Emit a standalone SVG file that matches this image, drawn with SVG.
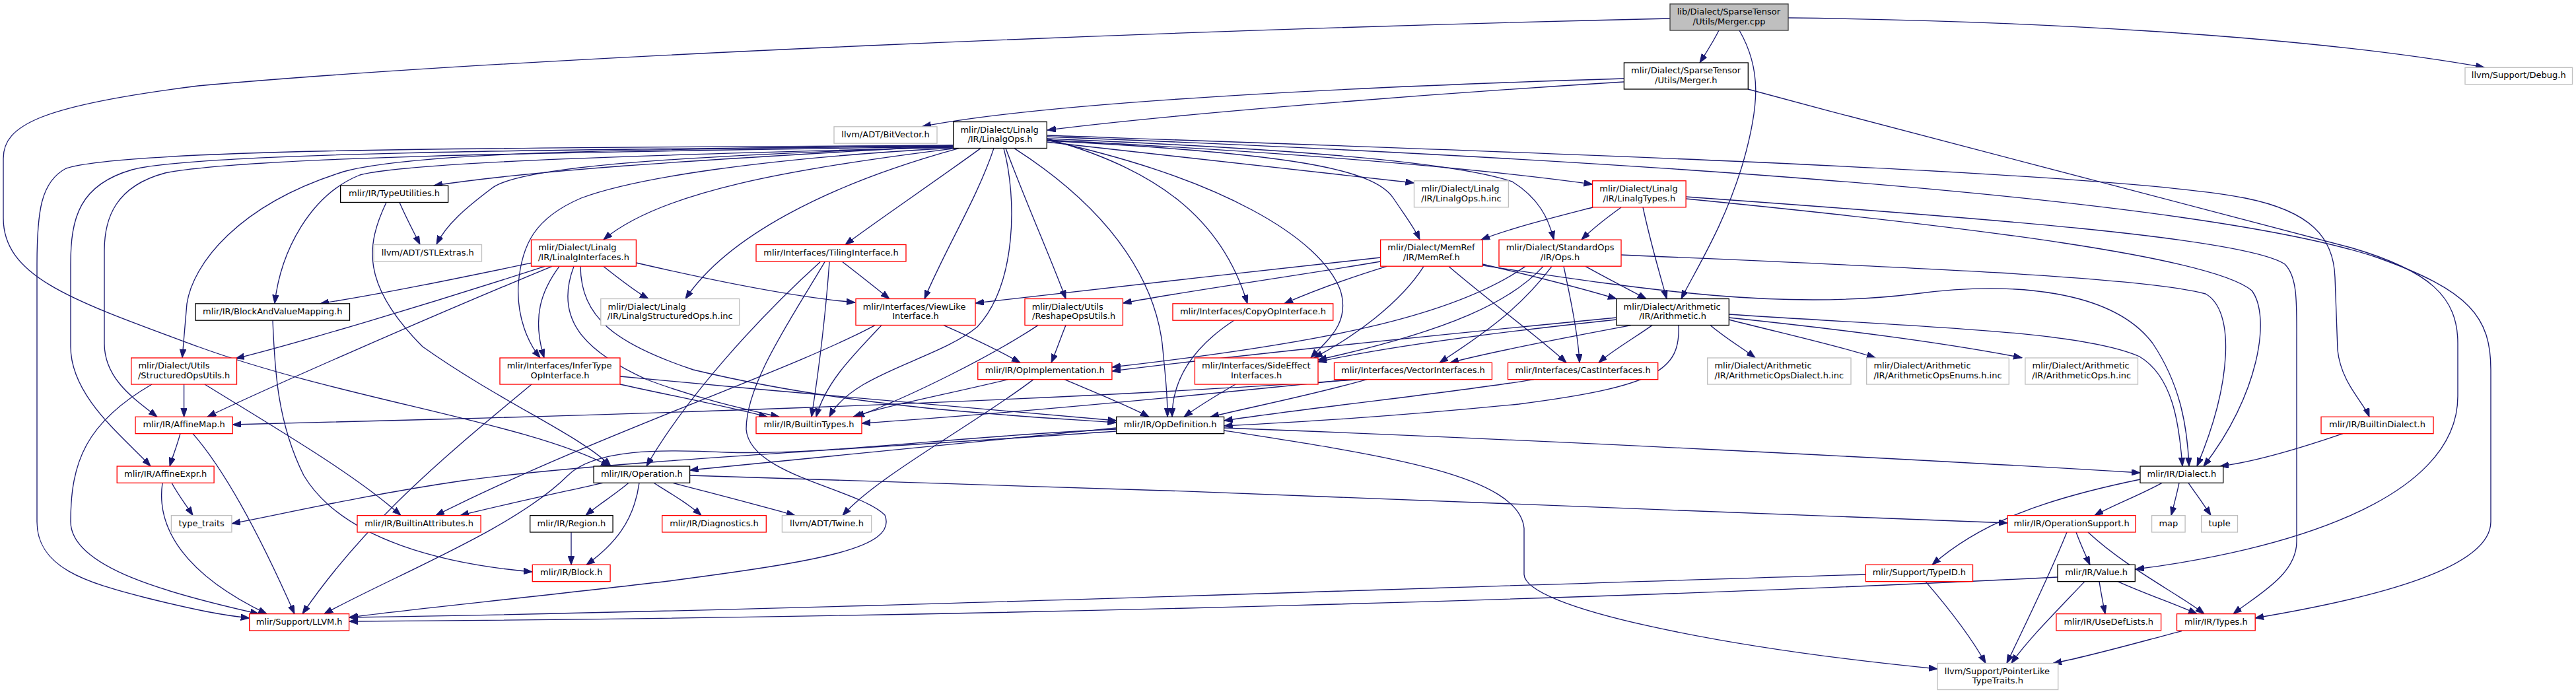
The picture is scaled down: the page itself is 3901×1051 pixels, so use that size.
<svg xmlns="http://www.w3.org/2000/svg" width="3901" height="1051" viewBox="0 0 3901 1051">
<style>
.node rect{fill:#fff;stroke-width:1.33}
.blk rect{stroke:#000}
.red rect{stroke:#f00}
.gry rect{stroke:#bfbfbf}
.root rect{fill:#bfbfbf;stroke:#404040}
text{font-family:"DejaVu Sans","Liberation Sans",sans-serif;font-size:13px;fill:#000}
.m{text-anchor:middle}
.s{text-anchor:start}
#edges path{fill:none;stroke:#191970;stroke-width:1.33;marker-end:url(#a)}
</style>
<defs>
<marker id="a" markerUnits="userSpaceOnUse" markerWidth="14" markerHeight="10" refX="13" refY="4.7" orient="auto">
<path d="M0,0 L13,4.7 L0,9.4 z" fill="#191970" stroke="#191970" stroke-width="1"/>
</marker>
</defs>
<rect width="3901" height="1051" fill="#fff"/>
<g id="edges">
<path d="M2603,46 C2595,62 2585,78 2574,95"/>
<path d="M2634,46 C2668,105 2664,160 2640,245 C2612,340 2570,405 2546,452.5"/>
<path d="M2708,27 C3050,31 3480,52 3762,102"/>
<path d="M2529,28 C1800,45 800,85 300,130 C60,160 5,190 5,240 L5,330 C5,420 110,455 300,525 C520,605 800,640 923,706"/>
<path d="M2459,119 C2100,130 1600,152 1397,191.5"/>
<path d="M2459,124 C2200,140 1800,170 1586,197"/>
<path d="M2647,135 C3000,230 3380,330 3560,375 C3680,410 3722,450 3722,520 L3722,600 C3722,760 3450,835 3234,862"/>
<path d="M1444,220 C1150,238 850,252 657,281"/>
<path d="M1444,222 C1050,236 790,250 745,285 C705,315 676,340 661,370"/>
<path d="M1444,223 C1000,234 620,245 545,265 C470,295 425,380 416,459.7"/>
<path d="M1444,221 C900,226 620,232 520,260 C360,310 292,400 283,460 L276,541.8"/>
<path d="M1444,222 C900,230 380,236 250,262 C175,282 158,330 158,380 L158,520 C158,575 205,605 238,631.3"/>
<path d="M1444,221 C900,226 300,230 200,257 C120,280 107,330 107,400 L107,525 C107,600 185,660 228,706"/>
<path d="M1444,220 C900,224 200,222 100,255 C62,275 56,320 56,400 L56,790 C56,860 130,882 220,905 C300,925 340,932 377.7,936"/>
<path d="M1447,224.6 C1200,255 1000,290 914,363"/>
<path d="M1444,224 C1150,240 960,270 880,300 C810,330 790,370 785,430 C782,480 800,520 818,541.8"/>
<path d="M1452,224.6 C1250,280 1100,360 1038,452.6"/>
<path d="M1485,224.6 C1420,272 1320,340 1280,370.5"/>
<path d="M1505,224.6 C1480,300 1430,380 1400,452.6"/>
<path d="M1520,224.6 C1540,300 1540,430 1480,495 C1420,545 1290,565 1256,631.3"/>
<path d="M1523,224.6 C1555,310 1595,400 1614,452.6"/>
<path d="M1536,224.6 C1700,330 1750,440 1760,520 C1765,570 1768,600 1768,631.3"/>
<path d="M1585,210 C1750,255 1850,330 1889,459.7"/>
<path d="M1585,212 C1850,270 2000,360 2030,440 C2045,490 2010,515 1985,541.8"/>
<path d="M1585,215 C1800,240 2000,260 2141.5,277"/>
<path d="M1585,212 C1900,228 2200,250 2411.6,279"/>
<path d="M1585,213 C1950,232 2080,255 2110,300 C2130,330 2142,345 2150,363"/>
<path d="M1585,210 C1950,225 2200,245 2290,275 C2330,300 2345,330 2353,363"/>
<path d="M1585,205 C2300,230 3200,260 3400,300 C3500,320 3534,360 3536,420 L3540,530 C3545,580 3580,610 3588,631.3"/>
<path d="M1585,207 C2300,235 3300,290 3600,390 C3740,440 3772,480 3772,560 L3772,790 C3772,860 3600,905 3415,936"/>
<path d="M2412,314 C2350,330 2290,345 2243,363"/>
<path d="M2455,314 C2430,332 2410,348 2395,363"/>
<path d="M2488,314 C2500,370 2515,420 2524,452.6"/>
<path d="M2553,298 C3000,330 3400,360 3460,400 C3480,420 3478,460 3478,520 L3478,820 C3478,870 3420,900 3382,929.6"/>
<path d="M2553,301 C3000,345 3350,390 3410,440 C3440,480 3420,600 3337,706"/>
<path d="M2245,400 C2330,420 2400,438 2448,452.6"/>
<path d="M2245,402 C2500,440 2700,470 2900,445 C3050,425 3200,440 3260,520 C3300,580 3312,640 3315,706"/>
<path d="M2194,403.4 C2260,460 2330,510 2372,549.2"/>
<path d="M2090.6,390 C1900,410 1650,440 1477,459"/>
<path d="M2090.6,396 C1950,420 1800,440 1700.4,459"/>
<path d="M2100,403.4 C2030,425 1990,440 1945,459.7"/>
<path d="M2156,403.4 C2120,460 2050,510 1990,541.8"/>
<path d="M2401,403.4 C2440,425 2470,440 2493,452.6"/>
<path d="M2455,386 C2900,405 3250,420 3340,445 C3385,470 3380,580 3327,706"/>
<path d="M2368,403.4 C2380,460 2390,510 2392,549.2"/>
<path d="M2337,403.4 C2290,455 2200,500 1996,545"/>
<path d="M2350,403.4 C2300,470 2240,510 2180,549.2"/>
<path d="M2310,403.4 C2200,480 2000,520 1684,556"/>
<path d="M2470,492.6 C2350,515 2250,535 2196,549.2"/>
<path d="M2618,476 C2900,495 3150,500 3240,540 C3290,570 3300,640 3305,706"/>
<path d="M2590,492.6 C2610,510 2640,528 2658,541.8"/>
<path d="M2618,484 C2700,505 2790,525 2840,541.8"/>
<path d="M2618,481 C2800,500 2950,520 3062,541.8"/>
<path d="M2502,492.6 C2470,515 2440,532 2421,549.2"/>
<path d="M2448,484 C2250,505 2100,525 1996,548"/>
<path d="M2448,481 C2200,505 1900,535 1684,562"/>
<path d="M2542,492.6 C2545,560 2510,585 2300,612 C2100,632 1950,640 1853.6,645"/>
<path d="M1869,485 C1800,530 1775,580 1775,631.3"/>
<path d="M1871,582 C1840,600 1815,615 1793,631.3"/>
<path d="M2070,574.6 C1980,600 1900,615 1833,631.3"/>
<path d="M2045,574.6 C1800,600 1500,628 1305,641"/>
<path d="M2060,574.6 C1700,600 1200,620 700,634 C550,638 420,641 352.2,643"/>
<path d="M2323,574.6 C2200,595 2000,615 1853.6,637"/>
<path d="M1612,574.6 C1660,595 1710,615 1740,631.3"/>
<path d="M1527,574.6 C1420,600 1340,615 1292,631.3"/>
<path d="M1565,574.6 C1480,640 1330,720 1276,780.6"/>
<path d="M939,582 C1020,600 1100,615 1162,631.3"/>
<path d="M939,570 C1200,595 1500,620 1690.6,637"/>
<path d="M805,582 C700,670 560,780 458,929.6"/>
<path d="M278.6,582 L278.6,631.3"/>
<path d="M310,582 C420,650 540,720 607,780.6"/>
<path d="M230,582 C130,640 107,700 107,790 C107,860 260,900 392,929.6"/>
<path d="M273,656.6 C268,675 262,690 257,706"/>
<path d="M292,656.6 C330,700 380,780 446,929.6"/>
<path d="M260,731.3 C270,750 282,765 292,780.6"/>
<path d="M246,731.3 C236,800 280,870 404,929.6"/>
<path d="M413,485 C416,560 420,640 460,720 C520,820 680,855 806,866"/>
<path d="M605,306.5 C615,330 626,350 636,370.3"/>
<path d="M585,306.5 C555,370 545,430 640,525 C760,610 880,660 925,706"/>
<path d="M806,398 C700,420 580,445 485,459.7"/>
<path d="M825,403.4 C650,460 450,520 357,543"/>
<path d="M836,403.4 C650,480 400,590 314,631.3"/>
<path d="M847,403.4 C820,440 805,480 824,541.8"/>
<path d="M914,403.4 C935,420 960,440 982,452.6"/>
<path d="M963.4,398 C1080,425 1200,450 1295,458"/>
<path d="M869,403.4 C840,480 880,530 980,575 C1060,605 1130,620 1180,631.3"/>
<path d="M879,403.4 C880,480 930,520 1050,560 C1300,620 1550,630 1690.6,640"/>
<path d="M1276,396.7 C1300,415 1325,435 1347,452.6"/>
<path d="M1242,396.7 C1150,480 1040,600 979,706"/>
<path d="M1249,396.7 C1200,480 1130,580 1130,650 C1135,720 1300,740 1340,780 C1360,830 1240,850 1012,880 C800,905 600,925 528.6,935"/>
<path d="M1256,396.7 C1250,480 1240,560 1229,631.3"/>
<path d="M1429,492.6 C1480,515 1520,535 1545,549.2"/>
<path d="M1335,492.6 C1290,540 1250,580 1236,631.3"/>
<path d="M1325,492.6 C1200,560 900,660 660,780.6"/>
<path d="M1614,492.6 C1605,515 1598,535 1592,549.2"/>
<path d="M1572,492.6 C1500,540 1380,600 1296,631.3"/>
<path d="M1690.6,648 C1450,672 1200,695 1044.6,712"/>
<path d="M1853.6,648 C2300,665 2900,695 3241,716"/>
<path d="M1690.6,650 C1450,660 1250,690 1100,685 C1000,680 900,680 860,720 C780,800 600,870 491,929.6"/>
<path d="M1690.6,653 C1300,680 900,700 700,728 C550,750 420,780 351,793"/>
<path d="M1853.6,652 C2100,690 2300,720 2308,800 L2308,870 C2310,920 2600,980 2934,1013"/>
<path d="M913,731.3 C820,752 750,767 697,780.6"/>
<path d="M952,731.3 C930,750 905,765 887,780.6"/>
<path d="M968,731.3 C960,790 930,825 888,855.4"/>
<path d="M990,731.3 C1020,750 1045,765 1062,780.6"/>
<path d="M1019,731.3 C1090,750 1160,768 1204,780.6"/>
<path d="M1044.6,720 C1700,740 2600,770 3040,792"/>
<path d="M865,806 L865,855.4"/>
<path d="M3274,731.3 C3240,750 3200,765 3172,780.6"/>
<path d="M3300,731.3 C3296,750 3292,765 3288,780.6"/>
<path d="M3314,731.3 C3327,750 3338,765 3348,780.6"/>
<path d="M3241,726 C3100,755 3000,790 2926,855.4"/>
<path d="M3548,656.6 C3480,680 3410,700 3362,706"/>
<path d="M3144,806 C3151,825 3158,840 3165,855.4"/>
<path d="M3162,806 C3220,860 3300,900 3338,929.6"/>
<path d="M3130,806 C3100,880 3060,960 3039,1004.5"/>
<path d="M2916,880.6 C2950,920 2985,965 3007,1004.5"/>
<path d="M2825.3,870 C2000,895 1200,925 528.6,935"/>
<path d="M3157,880.6 C3110,930 3070,970 3046,1004.5"/>
<path d="M3179,880.6 C3182,900 3185,915 3188,929.6"/>
<path d="M3207,880.6 C3250,900 3295,915 3327,929.6"/>
<path d="M3116,874 C2500,905 1500,935 528.6,941"/>
<path d="M3304,955.6 C3230,975 3160,995 3109,1004.5"/>
</g>
<g id="n1" class="node root"><rect x="2529" y="6" width="179" height="40"/><text class="s" x="2539.7" y="22">lib/Dialect/SparseTensor</text><text class="m" x="2618.5" y="36.7">/Utils/Merger.cpp</text></g>
<g id="n2" class="node blk"><rect x="2459.4" y="95" width="187.9" height="40"/><text class="s" x="2470.1" y="111">mlir/Dialect/SparseTensor</text><text class="m" x="2553.35" y="125.7">/Utils/Merger.h</text></g>
<g id="n3" class="node gry"><rect x="1263" y="191.83" width="156" height="25.33"/><text class="m" x="1341" y="207.83">llvm/ADT/BitVector.h</text></g>
<g id="n4" class="node blk"><rect x="1443.75" y="184.5" width="141.55" height="40"/><text class="s" x="1454.45" y="200.5">mlir/Dialect/Linalg</text><text class="m" x="1514.5" y="215.2">/IR/LinalgOps.h</text></g>
<g id="n5" class="node gry"><rect x="3733" y="102.33" width="162.5" height="25.33"/><text class="m" x="3814.25" y="118.33">llvm/Support/Debug.h</text></g>
<g id="n6" class="node blk"><rect x="515.6" y="281.13" width="163" height="25.33"/><text class="m" x="597.1" y="297.13">mlir/IR/TypeUtilities.h</text></g>
<g id="n7" class="node gry"><rect x="566" y="370.53" width="163.5" height="25.33"/><text class="m" x="647.75" y="386.53">llvm/ADT/STLExtras.h</text></g>
<g id="n8" class="node red"><rect x="804.5" y="363.2" width="158.9" height="40"/><text class="s" x="815.2" y="379.2">mlir/Dialect/Linalg</text><text class="m" x="883.95" y="393.9">/IR/LinalgInterfaces.h</text></g>
<g id="n9" class="node red"><rect x="1145" y="370.53" width="227" height="25.33"/><text class="m" x="1258.5" y="386.53">mlir/Interfaces/TilingInterface.h</text></g>
<g id="n10" class="node gry"><rect x="2141.5" y="273.8" width="142.9" height="40"/><text class="s" x="2152.2" y="289.8">mlir/Dialect/Linalg</text><text class="m" x="2212.95" y="304.5">/IR/LinalgOps.h.inc</text></g>
<g id="n11" class="node red"><rect x="2411.6" y="273.8" width="141.5" height="40"/><text class="s" x="2422.3" y="289.8">mlir/Dialect/Linalg</text><text class="m" x="2482.35" y="304.5">/IR/LinalgTypes.h</text></g>
<g id="n12" class="node red"><rect x="2090.6" y="363.2" width="154.4" height="40"/><text class="s" x="2101.3" y="379.2">mlir/Dialect/MemRef</text><text class="m" x="2167.8" y="393.9">/IR/MemRef.h</text></g>
<g id="n13" class="node red"><rect x="2270" y="363.2" width="185" height="40"/><text class="s" x="2280.7" y="379.2">mlir/Dialect/StandardOps</text><text class="m" x="2362.5" y="393.9">/IR/Ops.h</text></g>
<g id="n14" class="node blk"><rect x="296" y="459.83" width="233.5" height="25.33"/><text class="m" x="412.75" y="475.83">mlir/IR/BlockAndValueMapping.h</text></g>
<g id="n15" class="node gry"><rect x="909.8" y="452.5" width="209.8" height="40"/><text class="s" x="920.5" y="468.5">mlir/Dialect/Linalg</text><text class="m" x="1014.7" y="483.2">/IR/LinalgStructuredOps.h.inc</text></g>
<g id="n16" class="node red"><rect x="1296" y="452.5" width="181" height="40"/><text class="s" x="1306.7" y="468.5">mlir/Interfaces/ViewLike</text><text class="m" x="1386.5" y="483.2">Interface.h</text></g>
<g id="n17" class="node red"><rect x="1552" y="452.5" width="148.4" height="40"/><text class="s" x="1562.7" y="468.5">mlir/Dialect/Utils</text><text class="m" x="1626.2" y="483.2">/ReshapeOpsUtils.h</text></g>
<g id="n18" class="node red"><rect x="1776" y="459.83" width="242.75" height="25.33"/><text class="m" x="1897.4" y="475.83">mlir/Interfaces/CopyOpInterface.h</text></g>
<g id="n19" class="node blk"><rect x="2447.8" y="452.5" width="170.5" height="40"/><text class="s" x="2458.5" y="468.5">mlir/Dialect/Arithmetic</text><text class="m" x="2533.05" y="483.2">/IR/Arithmetic.h</text></g>
<g id="n20" class="node red"><rect x="198.7" y="542" width="159.8" height="40"/><text class="s" x="209.4" y="558">mlir/Dialect/Utils</text><text class="m" x="278.6" y="572.7">/StructuredOpsUtils.h</text></g>
<g id="n21" class="node red"><rect x="757" y="542" width="182" height="40"/><text class="s" x="767.7" y="558">mlir/Interfaces/InferType</text><text class="m" x="848" y="572.7">OpInterface.h</text></g>
<g id="n22" class="node red"><rect x="1480.8" y="549.33" width="203.1" height="25.33"/><text class="m" x="1582.35" y="565.33">mlir/IR/OpImplementation.h</text></g>
<g id="n23" class="node red"><rect x="1809.4" y="542" width="186.6" height="40"/><text class="s" x="1820.1" y="558">mlir/Interfaces/SideEffect</text><text class="m" x="1902.7" y="572.7">Interfaces.h</text></g>
<g id="n24" class="node red"><rect x="2020.5" y="549.33" width="238.9" height="25.33"/><text class="m" x="2139.95" y="565.33">mlir/Interfaces/VectorInterfaces.h</text></g>
<g id="n25" class="node red"><rect x="2283.5" y="549.33" width="227.2" height="25.33"/><text class="m" x="2397.1" y="565.33">mlir/Interfaces/CastInterfaces.h</text></g>
<g id="n26" class="node gry"><rect x="2585.7" y="542" width="217.3" height="40"/><text class="s" x="2596.4" y="558">mlir/Dialect/Arithmetic</text><text class="m" x="2694.35" y="572.7">/IR/ArithmeticOpsDialect.h.inc</text></g>
<g id="n27" class="node gry"><rect x="2826.7" y="542" width="215.6" height="40"/><text class="s" x="2837.4" y="558">mlir/Dialect/Arithmetic</text><text class="m" x="2934.5" y="572.7">/IR/ArithmeticOpsEnums.h.inc</text></g>
<g id="n28" class="node gry"><rect x="3066.9" y="542" width="170.6" height="40"/><text class="s" x="3077.6" y="558">mlir/Dialect/Arithmetic</text><text class="m" x="3152.2" y="572.7">/IR/ArithmeticOps.h.inc</text></g>
<g id="n29" class="node red"><rect x="205" y="631.33" width="147.2" height="25.33"/><text class="m" x="278.6" y="647.33">mlir/IR/AffineMap.h</text></g>
<g id="n30" class="node red"><rect x="1145" y="631.33" width="160" height="25.33"/><text class="m" x="1225" y="647.33">mlir/IR/BuiltinTypes.h</text></g>
<g id="n31" class="node blk"><rect x="1690.6" y="631.33" width="163" height="25.33"/><text class="m" x="1772.1" y="647.33">mlir/IR/OpDefinition.h</text></g>
<g id="n32" class="node red"><rect x="3515" y="631.33" width="170" height="25.33"/><text class="m" x="3600" y="647.33">mlir/IR/BuiltinDialect.h</text></g>
<g id="n33" class="node red"><rect x="177.2" y="706.03" width="146.9" height="25.33"/><text class="m" x="250.65" y="722.03">mlir/IR/AffineExpr.h</text></g>
<g id="n34" class="node blk"><rect x="899.1" y="706.03" width="145.5" height="25.33"/><text class="m" x="971.85" y="722.03">mlir/IR/Operation.h</text></g>
<g id="n35" class="node blk"><rect x="3241" y="706.03" width="125.7" height="25.33"/><text class="m" x="3303.85" y="722.03">mlir/IR/Dialect.h</text></g>
<g id="n36" class="node gry"><rect x="259.4" y="780.63" width="91.5" height="25.33"/><text class="m" x="305.15" y="796.63">type_traits</text></g>
<g id="n37" class="node red"><rect x="541" y="780.63" width="187.1" height="25.33"/><text class="m" x="634.55" y="796.63">mlir/IR/BuiltinAttributes.h</text></g>
<g id="n38" class="node blk"><rect x="802.7" y="780.63" width="125.4" height="25.33"/><text class="m" x="865.4" y="796.63">mlir/IR/Region.h</text></g>
<g id="n39" class="node red"><rect x="1002.7" y="780.63" width="157.6" height="25.33"/><text class="m" x="1081.5" y="796.63">mlir/IR/Diagnostics.h</text></g>
<g id="n40" class="node gry"><rect x="1184.4" y="780.63" width="135.2" height="25.33"/><text class="m" x="1252" y="796.63">llvm/ADT/Twine.h</text></g>
<g id="n41" class="node red"><rect x="3040.2" y="780.63" width="193.8" height="25.33"/><text class="m" x="3137.1" y="796.63">mlir/IR/OperationSupport.h</text></g>
<g id="n42" class="node gry"><rect x="3258.6" y="780.63" width="50.5" height="25.33"/><text class="m" x="3283.85" y="796.63">map</text></g>
<g id="n43" class="node gry"><rect x="3333.7" y="780.63" width="54.8" height="25.33"/><text class="m" x="3361.1" y="796.63">tuple</text></g>
<g id="n44" class="node red"><rect x="806.25" y="855.33" width="117.85" height="25.33"/><text class="m" x="865.2" y="871.33">mlir/IR/Block.h</text></g>
<g id="n45" class="node red"><rect x="2825.3" y="855.33" width="162.2" height="25.33"/><text class="m" x="2906.4" y="871.33">mlir/Support/TypeID.h</text></g>
<g id="n46" class="node blk"><rect x="3116" y="855.33" width="117.3" height="25.33"/><text class="m" x="3174.65" y="871.33">mlir/IR/Value.h</text></g>
<g id="n47" class="node red"><rect x="377.7" y="929.63" width="150.9" height="25.33"/><text class="m" x="453.15" y="945.63">mlir/Support/LLVM.h</text></g>
<g id="n48" class="node red"><rect x="3113.9" y="929.63" width="158.7" height="25.33"/><text class="m" x="3193.25" y="945.63">mlir/IR/UseDefLists.h</text></g>
<g id="n49" class="node red"><rect x="3296.5" y="929.63" width="118.7" height="25.33"/><text class="m" x="3355.85" y="945.63">mlir/IR/Types.h</text></g>
<g id="n50" class="node gry"><rect x="2934.1" y="1004.5" width="182.6" height="40"/><text class="s" x="2944.8" y="1020.5">llvm/Support/PointerLike</text><text class="m" x="3025.4" y="1035.2">TypeTraits.h</text></g>
</svg>
